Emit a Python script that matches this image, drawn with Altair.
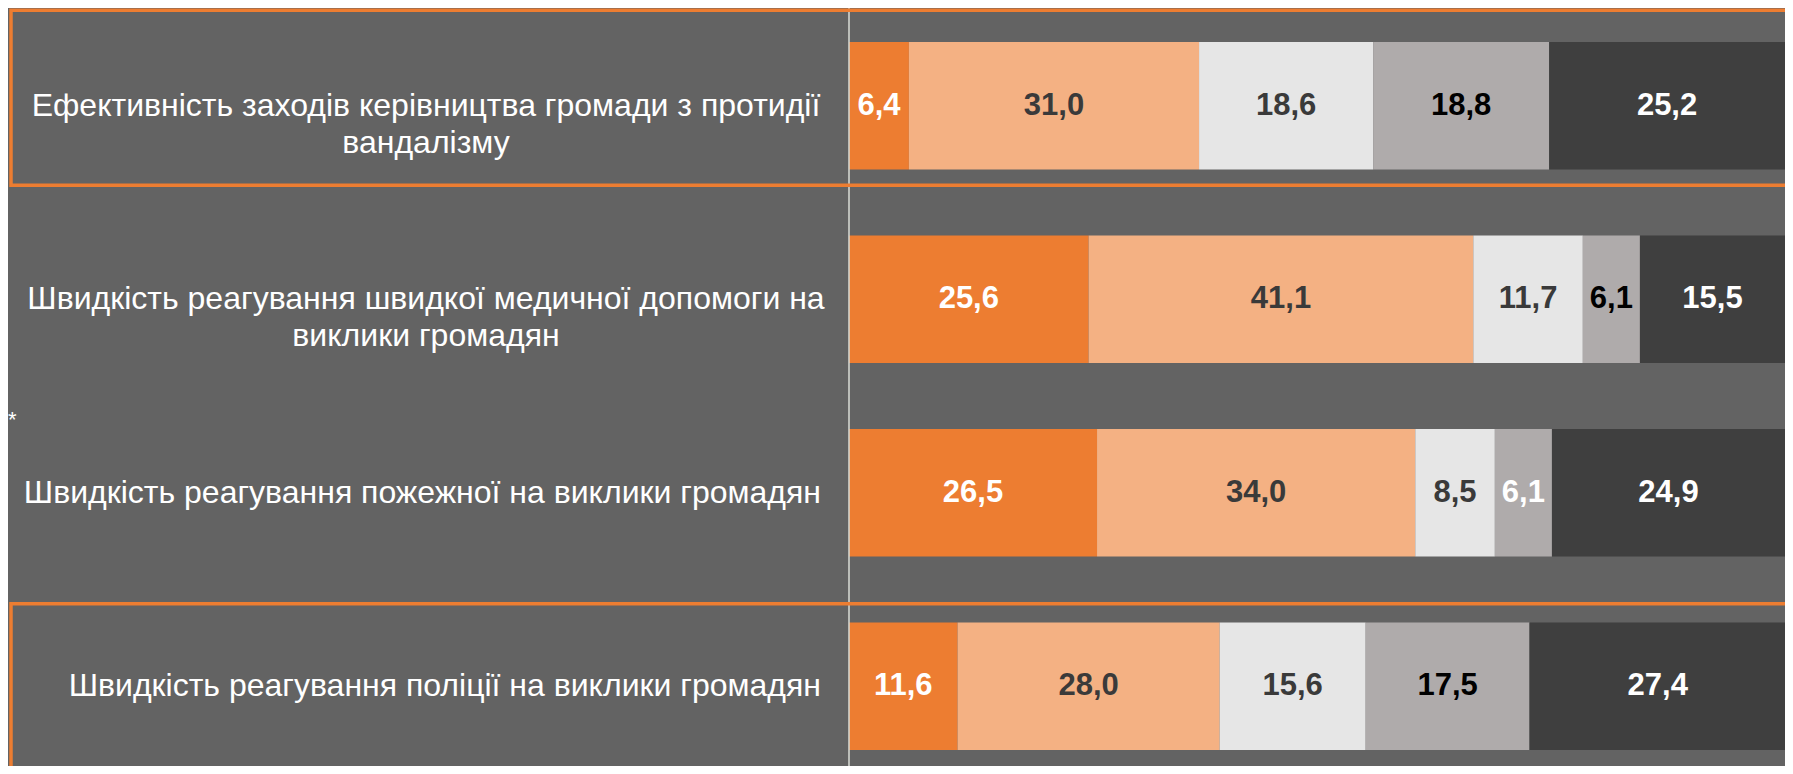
import altair as alt
import pandas as pd

# ---- data ----
rows = [
    "Ефективність заходів керівництва громади з протидії\nвандалізму",
    "Швидкість реагування швидкої медичної допомоги на\nвиклики громадян",
    "Швидкість реагування пожежної на виклики громадян",
    "Швидкість реагування поліції на виклики громадян",
]
segments = ["Категорія 1", "Категорія 2", "Категорія 3", "Категорія 4", "Категорія 5"]
seg1 = [6.4, 25.6, 26.5, 11.6]
seg2 = [31.0, 41.1, 34.0, 28.0]
seg3 = [18.6, 11.7, 8.5, 15.6]
seg4 = [18.8, 6.1, 6.1, 17.5]
seg5 = [25.2, 15.5, 24.9, 27.4]
highlighted = [rows[0], rows[3]]

# ---- styles ----
BG = "#636363"
seg_colors = ["#ED7D31", "#F4B183", "#E6E6E6", "#AFABAB", "#3F3F3F"]
seg_text_colors = ["#FFFFFF", "#3A3A3A", "#3A3A3A", "#000000", "#FFFFFF"]
text_color_override = {(rows[2], segments[3]): "#FFFFFF"}
box_offsets = [-8, 5]  # vertical nudge of each highlight frame
FONT = "Liberation Sans"

series = [seg1, seg2, seg3, seg4, seg5]
recs = []
for si, (seg, vals) in enumerate(zip(segments, series)):
    for r, v in zip(rows, vals):
        recs.append({
            "row": r, "segment": seg, "order": si, "value": v,
            "tcolor": text_color_override.get((r, seg), seg_text_colors[si]),
        })
df = pd.DataFrame(recs)

LEFT = 841
PLOT_W = 936
H = 758

x_scale = alt.Scale(domain=[0, 100], nice=False)
y_scale = alt.Scale(domain=rows, range=[1, 775], paddingInner=0.34, paddingOuter=0.17)

stacked = alt.Chart(df).transform_stack(
    stack="value", groupby=["row"], sort=[alt.SortField("order")], as_=["x0", "x1"]
).transform_calculate(
    mid="(datum.x0 + datum.x1) / 2",
    label="replace(format(datum.value, '.1f'), '.', ',')",
)

bars = stacked.mark_rect().encode(
    x=alt.X("x0:Q", scale=x_scale, axis=None),
    x2="x1:Q",
    y=alt.Y("row:N", scale=y_scale, axis=None),
    color=alt.Color("segment:N", scale=alt.Scale(domain=segments, range=seg_colors), legend=None),
)

seg_labels = stacked.mark_text(
    font=FONT, fontWeight="bold", fontSize=31, baseline="middle", align="center"
).encode(
    x=alt.X("mid:Q", axis=None),
    y=alt.Y("row:N", axis=None),
    text="label:N",
    color=alt.Color("tcolor:N", scale=None),
)

rowdf = pd.DataFrame({"row": rows})
multi_labels = alt.Chart(rowdf).transform_filter(
    "indexof(datum.row, '\\n') >= 0"
).mark_text(
    font=FONT, fontSize=32, color="white", align="center", baseline="middle",
    lineBreak="\n", lineHeight=37,
).encode(
    x=alt.value(-423),
    y=alt.Y("row:N", axis=None),
    text="row:N",
)
single_labels = alt.Chart(rowdf).transform_filter(
    "indexof(datum.row, '\\n') < 0"
).mark_text(
    font=FONT, fontSize=32, color="white", align="right", baseline="middle",
).encode(
    x=alt.value(-28),
    y=alt.Y("row:N", axis=None),
    text="row:N",
)

vline = alt.Chart(pd.DataFrame({"v": [0]})).mark_rule(color="#DADDD6", strokeWidth=1.5).encode(
    x=alt.X("v:Q", axis=None)
)

box_layers = []
for r, off in zip(highlighted, box_offsets):
    box_layers.append(
        alt.Chart(pd.DataFrame({"row": [r]})).mark_bar(
            filled=False, stroke="#ED7D31", strokeWidth=3.5, height={"band": 1.37}
        ).encode(
            x=alt.value(-838),
            x2=alt.value(PLOT_W + 30),
            y=alt.Y("row:N", axis=None),
            yOffset=alt.value(off),
        )
    )

star = alt.Chart(pd.DataFrame({"t": ["*"]})).mark_text(
    font=FONT, fontSize=22, color="white", align="left", baseline="middle"
).encode(x=alt.value(-LEFT), y=alt.value(412), text="t:N")

chart = alt.layer(
    bars, vline, seg_labels, multi_labels, single_labels, *box_layers, star
).properties(
    width=PLOT_W, height=H,
    autosize=alt.AutoSizeParams(type="none"),
    padding={"left": LEFT, "top": 0, "right": 0, "bottom": 0},
    background=BG,
).configure_view(strokeWidth=0)

chart.save("out.html", embed_options={"renderer": "svg", "actions": False})
